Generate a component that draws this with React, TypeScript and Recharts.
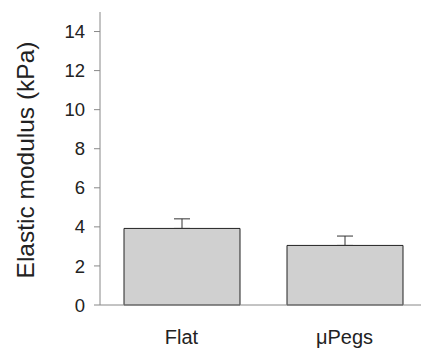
import { BarChart, Bar, XAxis, YAxis, ErrorBar, Label } from "recharts";

const categories = ["Flat", "μPegs"];
const modulus = [3.92, 3.05];
const errorUp = [0.49, 0.48];
const yTicks = [0, 2, 4, 6, 8, 10, 12, 14];

const data = categories.map((name, i) => ({
  name,
  value: modulus[i],
  err: [0, errorUp[i]],
}));

const FONT = "'Liberation Sans', Arial, Helvetica, sans-serif";

export default function App() {
  return (
    <div
      style={{
        position: "absolute",
        left: 0,
        top: 0,
        width: 421,
        height: 350,
        overflow: "hidden",
        fontFamily: FONT,
      }}
    >
      <BarChart
        width={426}
        height={350}
        data={data}
        margin={{ top: 12, right: 0, bottom: 0, left: 0 }}
        barSize={116}
      >
        <XAxis
          dataKey="name"
          height={45}
          tickLine={false}
          tickSize={0}
          tickMargin={25}
          stroke="#888"
          tick={{ fill: "#222", fontSize: 20, fontFamily: FONT }}
        />
        <YAxis
          width={100}
          domain={[0, 15]}
          ticks={yTicks}
          interval={0}
          tickSize={6}
          tickMargin={9}
          stroke="#888"
          tick={{ fill: "#222", fontSize: 18.5, fontFamily: FONT }}
        >
          <Label
            content={() => (
              <text
                x={25}
                y={160}
                transform="rotate(-90, 25, 160)"
                textAnchor="middle"
                dominantBaseline="central"
                fill="#222"
                fontSize={24.5}
                fontFamily={FONT}
              >
                Elastic modulus (kPa)
              </text>
            )}
          />
        </YAxis>
        <Bar dataKey="value" fill="#d0d0d0" stroke="#222" strokeWidth={1} isAnimationActive={false}>
          <ErrorBar dataKey="err" width={8} stroke="#333" strokeWidth={1} isAnimationActive={false} />
        </Bar>
      </BarChart>
    </div>
  );
}
